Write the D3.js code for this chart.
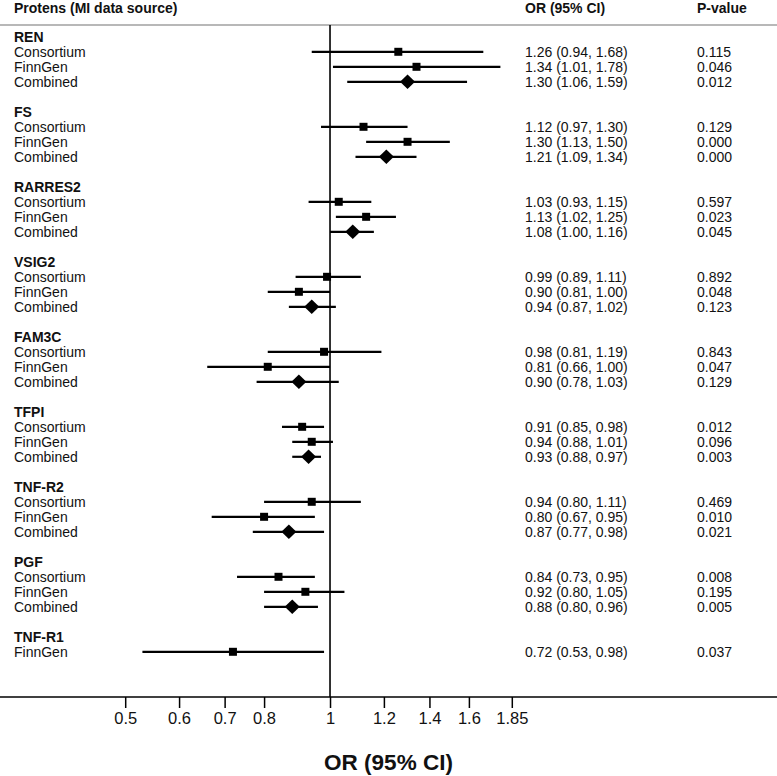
<!DOCTYPE html>
<html>
<head>
<meta charset="utf-8">
<script src="https://cdn.jsdelivr.net/npm/d3@7"></script>
<style>
  html, body { margin: 0; padding: 0; background: #fff; }
  svg { display: block; font-family: "Liberation Sans", Arial, sans-serif; }
</style>
</head>
<body>
<svg id="chart" width="777" height="776"></svg>
<script>
// ---- Data ----
const proteins = ["REN", "FS", "RARRES2", "VSIG2", "FAM3C", "TFPI", "TNF-R2", "PGF", "TNF-R1"];
const rowProtein = [
  "REN","REN","REN",
  "FS","FS","FS",
  "RARRES2","RARRES2","RARRES2",
  "VSIG2","VSIG2","VSIG2",
  "FAM3C","FAM3C","FAM3C",
  "TFPI","TFPI","TFPI",
  "TNF-R2","TNF-R2","TNF-R2",
  "PGF","PGF","PGF",
  "TNF-R1"
];
const rowSource = [
  "Consortium","FinnGen","Combined",
  "Consortium","FinnGen","Combined",
  "Consortium","FinnGen","Combined",
  "Consortium","FinnGen","Combined",
  "Consortium","FinnGen","Combined",
  "Consortium","FinnGen","Combined",
  "Consortium","FinnGen","Combined",
  "Consortium","FinnGen","Combined",
  "FinnGen"
];
const orValues = [1.26,1.34,1.30, 1.12,1.30,1.21, 1.03,1.13,1.08, 0.99,0.90,0.94, 0.98,0.81,0.90, 0.91,0.94,0.93, 0.94,0.80,0.87, 0.84,0.92,0.88, 0.72];
const ciLow    = [0.94,1.01,1.06, 0.97,1.13,1.09, 0.93,1.02,1.00, 0.89,0.81,0.87, 0.81,0.66,0.78, 0.85,0.88,0.88, 0.80,0.67,0.77, 0.73,0.80,0.80, 0.53];
const ciHigh   = [1.68,1.78,1.59, 1.30,1.50,1.34, 1.15,1.25,1.16, 1.11,1.00,1.02, 1.19,1.00,1.03, 0.98,1.01,0.97, 1.11,0.95,0.98, 0.95,1.05,0.96, 0.98];
const pValues  = ["0.115","0.046","0.012", "0.129","0.000","0.000", "0.597","0.023","0.045", "0.892","0.048","0.123", "0.843","0.047","0.129", "0.012","0.096","0.003", "0.469","0.010","0.021", "0.008","0.195","0.005", "0.037"];
const tickValues = [0.5, 0.6, 0.7, 0.8, 1, 1.2, 1.4, 1.6, 1.85];
const tickLabels = ["0.5","0.6","0.7","0.8","1","1.2","1.4","1.6","1.85"];
const headers = ["Protens (MI data source)", "OR (95% CI)", "P-value"];
const axisTitle = "OR (95% CI)";

// ---- Layout ----
const W = 777, H = 776;
const svg = d3.select("#chart");
const fontSize = 14;

// Build row layout: each protein group has a header line, its rows, then a blank line
const lines = [];
let idx = 0;
proteins.forEach(p => {
  lines.push({type: "header", label: p, idx: idx++});
  rowProtein.forEach((rp, i) => {
    if (rp === p) lines.push({type: "row", i: i, idx: idx++});
  });
  idx++; // blank
});

const y = d3.scaleLinear().domain([0, 1]).range([36.8, 51.8]);
const x = d3.scaleLog().domain([0.5, 1.85]).range([125.2, 511.8]);

const axisY = 697;
const colLabel = 14, colOR = 525, colP = 697;

// header text
const hdrX = [colLabel, colOR, colP];
svg.selectAll("text.hdr").data(headers).join("text")
  .attr("class", "hdr")
  .attr("x", (d, i) => hdrX[i]).attr("y", 13)
  .attr("font-size", fontSize).attr("font-weight", "bold").attr("fill", "#111")
  .text(d => d);

// header rule
svg.append("line").attr("x1", 0).attr("x2", W).attr("y1", 25).attr("y2", 25)
  .attr("stroke", "#a0a0a0").attr("stroke-width", 1.5);

// reference line at OR = 1
svg.append("line").attr("x1", x(1)).attr("x2", x(1)).attr("y1", 25).attr("y2", axisY)
  .attr("stroke", "#000").attr("stroke-width", 1.6);

// group headers
svg.selectAll("text.grp").data(lines.filter(d => d.type === "header")).join("text")
  .attr("class", "grp")
  .attr("x", colLabel).attr("y", d => y(d.idx) + 5)
  .attr("font-size", fontSize).attr("font-weight", "bold").attr("fill", "#111")
  .text(d => d.label);

const rows = lines.filter(d => d.type === "row");

// row labels
svg.selectAll("text.src").data(rows).join("text")
  .attr("class", "src")
  .attr("x", colLabel).attr("y", d => y(d.idx) + 5.3)
  .attr("font-size", fontSize).attr("fill", "#111")
  .text(d => rowSource[d.i]);

// OR text
svg.selectAll("text.ortxt").data(rows).join("text")
  .attr("class", "ortxt")
  .attr("x", colOR).attr("y", d => y(d.idx) + 5.3)
  .attr("font-size", fontSize).attr("fill", "#111")
  .text(d => `${orValues[d.i].toFixed(2)} (${ciLow[d.i].toFixed(2)}, ${ciHigh[d.i].toFixed(2)})`);

// P text
svg.selectAll("text.ptxt").data(rows).join("text")
  .attr("class", "ptxt")
  .attr("x", colP).attr("y", d => y(d.idx) + 5.3)
  .attr("font-size", fontSize).attr("fill", "#111")
  .text(d => pValues[d.i]);

// CI lines
svg.selectAll("line.ci").data(rows).join("line")
  .attr("class", "ci")
  .attr("x1", d => x(ciLow[d.i])).attr("x2", d => x(ciHigh[d.i]))
  .attr("y1", d => y(d.idx)).attr("y2", d => y(d.idx))
  .attr("stroke", "#000").attr("stroke-width", 2.2);

// markers
const sq = 8, dw = 7.5, dh = 7.2;
svg.selectAll("path.mk").data(rows).join("path")
  .attr("class", "mk")
  .attr("d", d => {
    const cx = x(orValues[d.i]), cy = y(d.idx);
    if (rowSource[d.i] === "Combined") {
      return `M${cx - dw},${cy}L${cx},${cy - dh}L${cx + dw},${cy}L${cx},${cy + dh}Z`;
    }
    return `M${cx - sq/2},${cy - sq/2}h${sq}v${sq}h${-sq}Z`;
  })
  .attr("fill", "#000");

// axis baseline full width
svg.append("line").attr("x1", 0).attr("x2", W).attr("y1", axisY).attr("y2", axisY)
  .attr("stroke", "#000").attr("stroke-width", 1.5);

const axis = d3.axisBottom(x).tickValues(tickValues).tickSize(11).tickPadding(4)
  .tickFormat((d, i) => tickLabels[i]);
const gAxis = svg.append("g").attr("transform", `translate(0,${axisY})`).call(axis);
gAxis.select(".domain").remove();
gAxis.selectAll(".tick line").attr("stroke", "#000").attr("stroke-width", 1.5);
gAxis.selectAll(".tick text").attr("font-size", 16.5).attr("fill", "#111")
  .attr("font-family", "Liberation Sans, Arial, sans-serif");

svg.append("text").attr("x", W / 2).attr("y", 770).attr("text-anchor", "middle")
  .attr("font-size", 22.5).attr("font-weight", "bold").attr("fill", "#111")
  .text(axisTitle);
</script>
</body>
</html>
